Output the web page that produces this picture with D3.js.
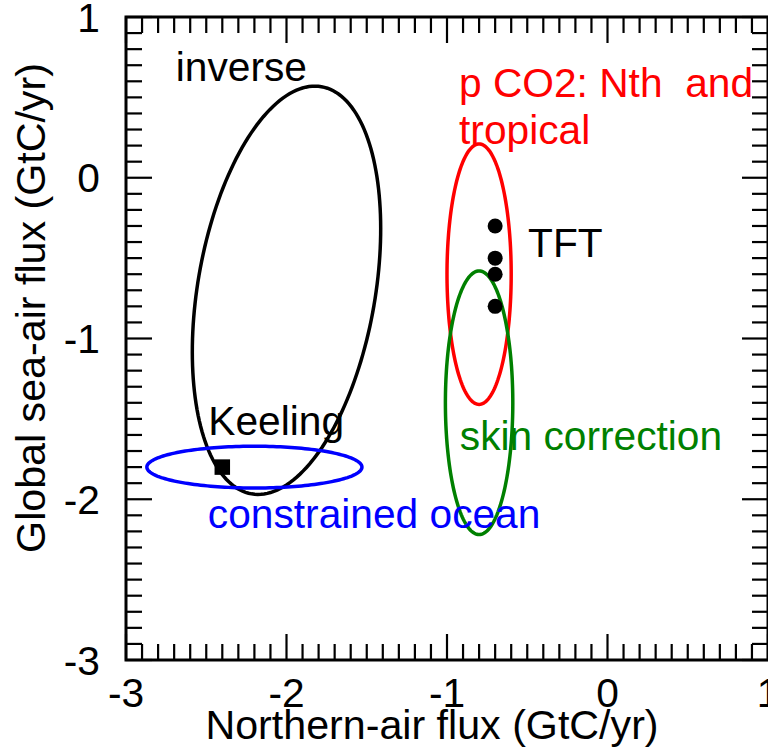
<!DOCTYPE html>
<html>
<head>
<meta charset="utf-8">
<script src="https://cdn.jsdelivr.net/npm/d3@7"></script>
<style>
  html, body { margin: 0; padding: 0; background: #fff; }
  svg { display: block; }
  text { font-family: "Liberation Sans", Arial, Helvetica, sans-serif; }
</style>
</head>
<body>
<svg id="chart" width="768" height="747"></svg>
<script>
// Uncertainty ellipses (centre, semi-axes in GtC/yr, tilt in degrees)
const ellipseNames   = ["inverse", "constrained ocean", "p CO2: Nth and tropical", "skin correction"];
const ellipseCenterX = [-2.0, -2.2, -0.8, -0.8];
const ellipseCenterY = [-0.7, -1.8, -0.6, -1.4];
const ellipseRadiusX = [0.553, 0.67, 0.2, 0.21];
const ellipseRadiusY = [1.285, 0.13, 0.81, 0.82];
const ellipseTilt    = [-9.75, 0, 0, 0];
const ellipseColors  = ["#000000", "#0000ff", "#ff0000", "#008000"];

// TFT estimates
const tftX = [-0.7, -0.7, -0.7, -0.7];
const tftY = [-0.3, -0.5, -0.6, -0.8];

// Keeling estimate
const keelingX = [-2.4];
const keelingY = [-1.8];

// Axis ticks
const xTickValues = [-3, -2, -1, 0, 1];
const yTickValues = [-3, -2, -1, 0, 1];
const xTickLabels = ["-3", "-2", "-1", "0", "1"];
const yTickLabels = ["-3", "-2", "-1", "0", "1"];

const svg = d3.select("#chart");
const plotLeft = 126, plotRight = 768, plotTop = 17, plotBottom = 660;

const x = d3.scaleLinear().domain([-3, 1]).range([plotLeft, plotRight]);
const y = d3.scaleLinear().domain([-3, 1]).range([plotBottom, plotTop]);

const FONT = 40.7;
const TITLE_FONT = 41.2;
const minorVals = d3.range(-30, 11).map(d => d / 10);
const majorSet = new Set(xTickValues.map(String));

// ---- ticks on all four sides, pointing inward
const tickG = svg.append("g").attr("stroke", "#000").attr("stroke-width", 2.2);
const isMajor = v => majorSet.has(String(Math.round(v * 10) / 10));
const lenOf = v => isMajor(v) ? 26 : 16;
minorVals.forEach(v => {
  const px = x(v), py = y(v), L = lenOf(v);
  tickG.append("line").attr("x1", px).attr("x2", px).attr("y1", plotBottom).attr("y2", plotBottom - L);
  tickG.append("line").attr("x1", px).attr("x2", px).attr("y1", plotTop).attr("y2", plotTop + L);
  tickG.append("line").attr("y1", py).attr("y2", py).attr("x1", plotLeft).attr("x2", plotLeft + L);
  tickG.append("line").attr("y1", py).attr("y2", py).attr("x1", plotRight).attr("x2", plotRight - L);
});

// ---- frame
svg.append("rect")
  .attr("x", plotLeft).attr("y", plotTop)
  .attr("width", plotRight - plotLeft).attr("height", plotBottom - plotTop)
  .attr("fill", "none").attr("stroke", "#000").attr("stroke-width", 3);

// ---- tick labels
svg.append("g").selectAll("text").data(xTickValues).join("text")
  .attr("x", d => x(d)).attr("y", 707)
  .attr("text-anchor", "middle").attr("font-size", FONT)
  .text((d, i) => xTickLabels[i]);

svg.append("g").selectAll("text").data(yTickValues).join("text")
  .attr("x", plotLeft - 26).attr("y", d => y(d)).attr("dy", "0.36em")
  .attr("text-anchor", "end").attr("font-size", FONT)
  .text((d, i) => yTickLabels[i]);

// ---- axis titles
svg.append("text")
  .attr("x", 432).attr("y", 739)
  .attr("text-anchor", "middle").attr("font-size", TITLE_FONT)
  .text("Northern-air flux (GtC/yr)");

svg.append("text")
  .attr("transform", "translate(45,308) rotate(-90)")
  .attr("text-anchor", "middle").attr("font-size", TITLE_FONT)
  .text("Global sea-air flux (GtC/yr)");

// ---- ellipses
const line = d3.line().x(p => x(p[0])).y(p => y(p[1])).curve(d3.curveLinearClosed);
const tSteps = d3.range(0, 360, 2).map(d => d * Math.PI / 180);
ellipseNames.forEach((name, i) => {
  const th = ellipseTilt[i] * Math.PI / 180;
  const pts = tSteps.map(t => {
    const ex = ellipseRadiusX[i] * Math.cos(t), ey = ellipseRadiusY[i] * Math.sin(t);
    return [ellipseCenterX[i] + ex * Math.cos(th) - ey * Math.sin(th),
            ellipseCenterY[i] + ex * Math.sin(th) + ey * Math.cos(th)];
  });
  svg.append("path")
    .attr("d", line(pts))
    .attr("fill", "none")
    .attr("stroke", ellipseColors[i])
    .attr("stroke-width", 3.5);
});

// ---- TFT points
svg.append("g").selectAll("circle").data(tftY).join("circle")
  .attr("cx", (d, i) => x(tftX[i])).attr("cy", d => y(d))
  .attr("r", 7.5).attr("fill", "#000");

// ---- Keeling point
const sq = 15.5;
svg.append("g").selectAll("rect").data(keelingY).join("rect")
  .attr("x", (d, i) => x(keelingX[i]) - sq / 2).attr("y", d => y(d) - sq / 2)
  .attr("width", sq).attr("height", sq).attr("fill", "#000");

// ---- annotations (positioned in data units)
const notes = [
  { t: "inverse",           x: -2.69, y: 0.6,    c: "#000000" },
  { t: "p CO2: Nth  and",   x: -0.925, y: 0.5,   c: "#ff0000" },
  { t: "tropical",          x: -0.925, y: 0.21,  c: "#ff0000" },
  { t: "TFT",               x: -0.495, y: -0.495, c: "#000000" },
  { t: "Keeling",           x: -2.487, y: -1.6,  c: "#000000" },
  { t: "skin correction",   x: -0.92, y: -1.694, c: "#008000" },
  { t: "constrained ocean", x: -2.49, y: -2.179, c: "#0000ff" }
];
svg.append("g").selectAll("text").data(notes).join("text")
  .attr("x", d => x(d.x)).attr("y", d => y(d.y))
  .attr("font-size", FONT)
  .attr("fill", d => d.c)
  .style("white-space", "pre")
  .text(d => d.t);
</script>
</body>
</html>
